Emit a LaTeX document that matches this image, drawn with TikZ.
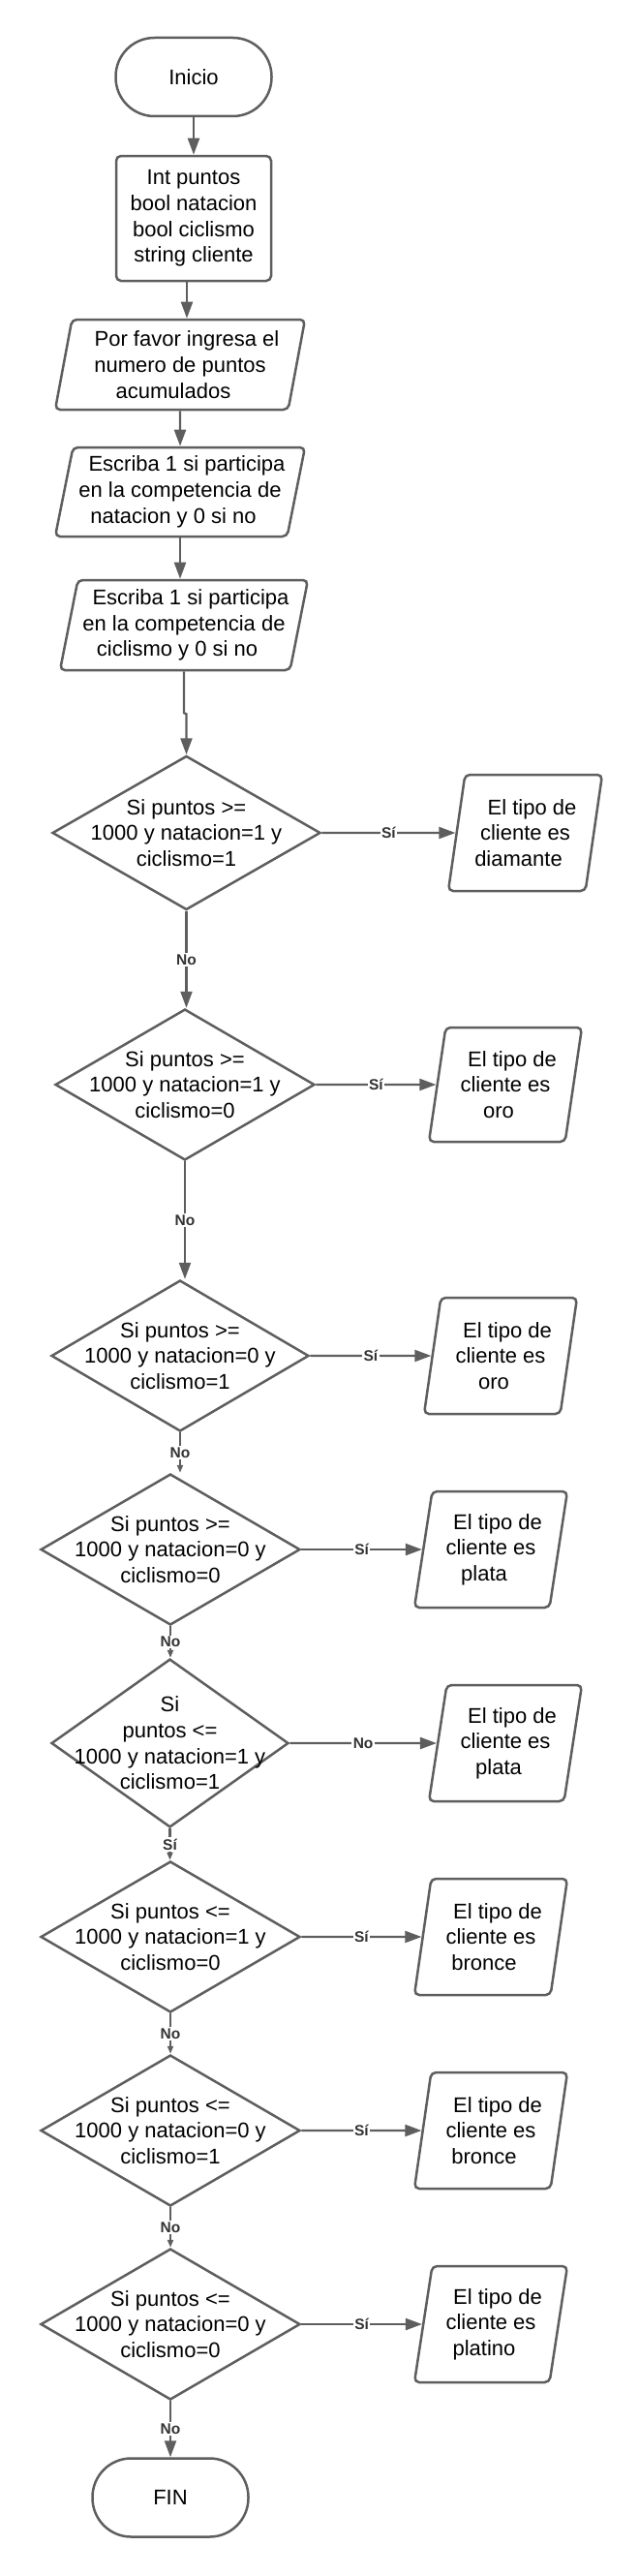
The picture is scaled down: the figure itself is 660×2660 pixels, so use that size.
\documentclass[tikz,border=0pt]{standalone}
\usepackage{fontspec}
\setmainfont{Liberation Sans}
\usepackage{tikz}
\usetikzlibrary{shapes.geometric, arrows.meta, positioning}
\usepackage{xcolor}
\definecolor{linegray}{RGB}{94,94,94}
\definecolor{labelgray}{RGB}{51,51,51}
\newcommand{\nodefont}{\fontsize{22}{26.7}\selectfont}
\newcommand{\lblfont}{\fontsize{15.5}{18}\selectfont\bfseries}
\newcommand{\topln}[1]{\hspace*{7pt}#1\hspace*{-7pt}}
\newcommand{\botln}[1]{\hspace*{-7pt}#1\hspace*{7pt}}
\tikzset{
  terminal/.style={rectangle, draw=linegray, line width=2.5pt, rounded corners=40pt,
    minimum width=161pt, minimum height=81pt, align=center, font=\nodefont},
  process/.style={rectangle, draw=linegray, line width=2.5pt, rounded corners=5pt,
    minimum width=160pt, minimum height=129pt, align=center, font=\nodefont},
  io/.style={trapezium, trapezium left angle=76, trapezium right angle=104,
    trapezium stretches body, draw=linegray, line width=2.5pt, rounded corners=5pt,
    inner sep=0pt, align=center, font=\nodefont},
  result/.style={io, minimum width=158pt, minimum height=120pt},
  decision/.style={diamond, draw=linegray, line width=2.5pt, inner sep=-30pt,
    minimum width=268pt, minimum height=156pt, align=center, font=\nodefont},
  yesno/.style={fill=white, text=labelgray, font=\lblfont, inner sep=1.5pt},
  arr/.style={-{Triangle[length=17pt,width=12pt]}, draw=linegray, line width=2.2pt},
  arrs/.style={-{Triangle[length=8pt,width=6pt]}, draw=linegray, line width=2.2pt},
}

\begin{document}
\begin{tikzpicture}[x=1pt, y=-1pt]
  \useasboundingbox (0,0) rectangle (660,2660);

  % Start, declarations and inputs
  \node[terminal] (inicio) at (200,79.5) {Inicio};
  \node[process] (vars) at (200,225.5) {Int puntos\\bool natacion\\bool ciclismo\\string cliente};
  \node[io, minimum width=258pt, minimum height=93pt] (leerpts) at (186,376.5)
    {\topln{Por favor ingresa el}\\numero de puntos\\\botln{acumulados}};
  \node[io, minimum width=258pt, minimum height=92pt] (leernat) at (186,508)
    {\topln{Escriba 1 si participa}\\en la competencia de\\\botln{natacion y 0 si no}};
  \node[io, minimum width=256pt, minimum height=93pt] (leercic) at (190,645.5)
    {\topln{Escriba 1 si participa}\\en la competencia de\\\botln{ciclismo y 0 si no}};

  % Decisions
  \node[decision, minimum width=277pt, minimum height=159pt] (d1) at (192.5,860)
    {Si puntos >=\\1000 y natacion=1 y\\ciclismo=1};
  \node[decision] (d2) at (191,1120) {Si puntos >=\\1000 y natacion=1 y\\ciclismo=0};
  \node[decision, minimum width=266pt] (d3) at (186,1400) {Si puntos >=\\1000 y natacion=0 y\\ciclismo=1};
  \node[decision] (d4) at (176,1600) {Si puntos >=\\1000 y natacion=0 y\\ciclismo=0};
  \node[decision, minimum width=245pt, minimum height=157pt] (d5) at (175.5,1800)
    {Si\\puntos <=\\1000 y natacion=1 y\\ciclismo=1};
  \node[decision] (d6) at (176,2000) {Si puntos <=\\1000 y natacion=1 y\\ciclismo=0};
  \node[decision] (d7) at (176,2200) {Si puntos <=\\1000 y natacion=0 y\\ciclismo=1};
  \node[decision] (d8) at (176,2400) {Si puntos <=\\1000 y natacion=0 y\\ciclismo=0};
  \node[terminal] (fin) at (176,2579) {FIN};

  % Client types
  \node[result, minimum width=159pt] (r1) at (542.5,860) {\topln{El tipo de}\\cliente es\\\botln{diamante}};
  \node[result, minimum height=118pt] (r2) at (522,1120) {\topln{El tipo de}\\cliente es\\\botln{oro}};
  \node[result] (r3) at (517,1400) {\topln{El tipo de}\\cliente es\\\botln{oro}};
  \node[result] (r4) at (507,1600) {\topln{El tipo de}\\cliente es\\\botln{plata}};
  \node[result] (r5) at (522,1800) {\topln{El tipo de}\\cliente es\\\botln{plata}};
  \node[result] (r6) at (507,2000) {\topln{El tipo de}\\cliente es\\\botln{bronce}};
  \node[result] (r7) at (507,2200) {\topln{El tipo de}\\cliente es\\\botln{bronce}};
  \node[result] (r8) at (507,2400) {\topln{El tipo de}\\cliente es\\\botln{platino}};

  % Main flow
  \draw[arr] (inicio) -- (vars);
  \draw[arr] ([xshift=-7pt]vars.south) -- ([xshift=-7pt]vars.south |- leerpts.north);
  \draw[arr] (leerpts) -- (leernat);
  \draw[arr] (leernat.south) -- (leernat.south |- leercic.north);
  \draw[arr] (leercic.south) -- ++(0,43) -- ([yshift=42pt]d1.north) -- (d1.north);
  \draw[arr] (d1.south) -- node[yesno] {No} (d1.south |- d2.north);
  \draw[arr] (d2.south) -- node[yesno] {No} (d2.south |- d3.north);
  \draw[arrs] (d3.south) -- node[yesno] {No} (d3.south |- d4.north);
  \draw[arrs] (d4.south) -- node[yesno] {No} (d4.south |- d5.north);
  \draw[arrs] (d5.south) -- node[yesno] {Sí} (d5.south |- d6.north);
  \draw[arrs] (d6.south) -- node[yesno] {No} (d6.south |- d7.north);
  \draw[arrs] (d7.south) -- node[yesno] {No} (d7.south |- d8.north);
  \draw[arr] (d8.south) -- node[yesno] {No} (fin);

  % Branches to the client types
  \draw[arr] (d1) -- node[yesno] {Sí} (r1);
  \draw[arr] (d2) -- node[yesno] {Sí} (r2);
  \draw[arr] (d3) -- node[yesno] {Sí} (r3);
  \draw[arr] (d4) -- node[yesno] {Sí} (r4);
  \draw[arr] (d5) -- node[yesno] {No} (r5);
  \draw[arr] (d6) -- node[yesno] {Sí} (r6);
  \draw[arr] (d7) -- node[yesno] {Sí} (r7);
  \draw[arr] (d8) -- node[yesno] {Sí} (r8);
\end{tikzpicture}
\end{document}
